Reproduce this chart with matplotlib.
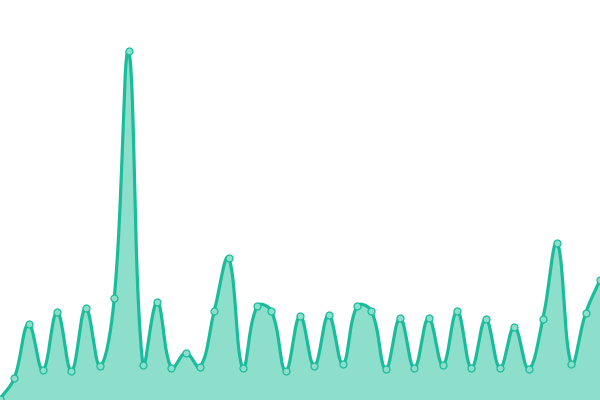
import numpy as np
import matplotlib
matplotlib.use("Agg")
import matplotlib.pyplot as plt

# heights (pixels above the bottom edge)
values = [1, 22, 76, 30, 88, 29, 92, 34, 102, 349, 35, 98, 32, 47, 33, 89, 142,
          32, 94, 89, 29, 84, 34, 85, 36, 94, 89, 31, 82, 32, 82, 35, 89, 32,
          81, 32, 73, 31, 81, 157, 36, 87, 120]
idx = list(range(len(values)))

line_color = '#1abc9c'
fill_color = '#8ddfcc'
W, H = 600, 400
tension = 0.4


def spline(xs, ys, t):
    # chart.js style control points, done in pixel space
    px = np.array(xs, float) * W / (len(xs) - 1)
    py = np.array(ys, float)
    n = len(px)
    cps = []
    for i in range(n):
        p0 = (px[max(i - 1, 0)], py[max(i - 1, 0)])
        p1 = (px[i], py[i])
        p2 = (px[min(i + 1, n - 1)], py[min(i + 1, n - 1)])
        d01 = np.hypot(p1[0] - p0[0], p1[1] - p0[1])
        d12 = np.hypot(p2[0] - p1[0], p2[1] - p1[1])
        s01 = d01 / (d01 + d12) if d01 + d12 else 0
        s12 = d12 / (d01 + d12) if d01 + d12 else 0
        fa, fb = t * s01, t * s12
        prev = (p1[0] - fa * (p2[0] - p0[0]), p1[1] - fa * (p2[1] - p0[1]))
        nxt = (p1[0] + fb * (p2[0] - p0[0]), p1[1] + fb * (p2[1] - p0[1]))
        prev = (prev[0], min(max(prev[1], 0), H))
        nxt = (nxt[0], min(max(nxt[1], 0), H))
        cps.append((prev, nxt))
    sx, sy = [], []
    u = np.linspace(0, 1, 30)
    for i in range(n - 1):
        a = np.array([px[i], py[i]])
        b = np.array(cps[i][1])
        c = np.array(cps[i + 1][0])
        d = np.array([px[i + 1], py[i + 1]])
        pts = ((1 - u) ** 3)[:, None] * a + (3 * (1 - u) ** 2 * u)[:, None] * b \
            + (3 * (1 - u) * u ** 2)[:, None] * c + (u ** 3)[:, None] * d
        sx.extend(pts[:, 0] * (len(xs) - 1) / W)
        sy.extend(pts[:, 1])
    return np.array(sx), np.array(sy)


sx, sy = spline(idx, values, tension)

fig = plt.figure(figsize=(6, 4), dpi=100)
ax = fig.add_axes([0, 0, 1, 1])
ax.fill_between(sx, sy, 0, color=fill_color, linewidth=0)
ax.plot(sx, sy, color=line_color, linewidth=2.3, solid_capstyle='round')
ax.plot(idx, values, 'o', markersize=5, markerfacecolor=fill_color,
        markeredgecolor=line_color, markeredgewidth=0.9, clip_on=True)
ax.set_xlim(0, len(values) - 1)
ax.set_ylim(0, H)
ax.axis('off')
fig.savefig('out.png', dpi=100)
